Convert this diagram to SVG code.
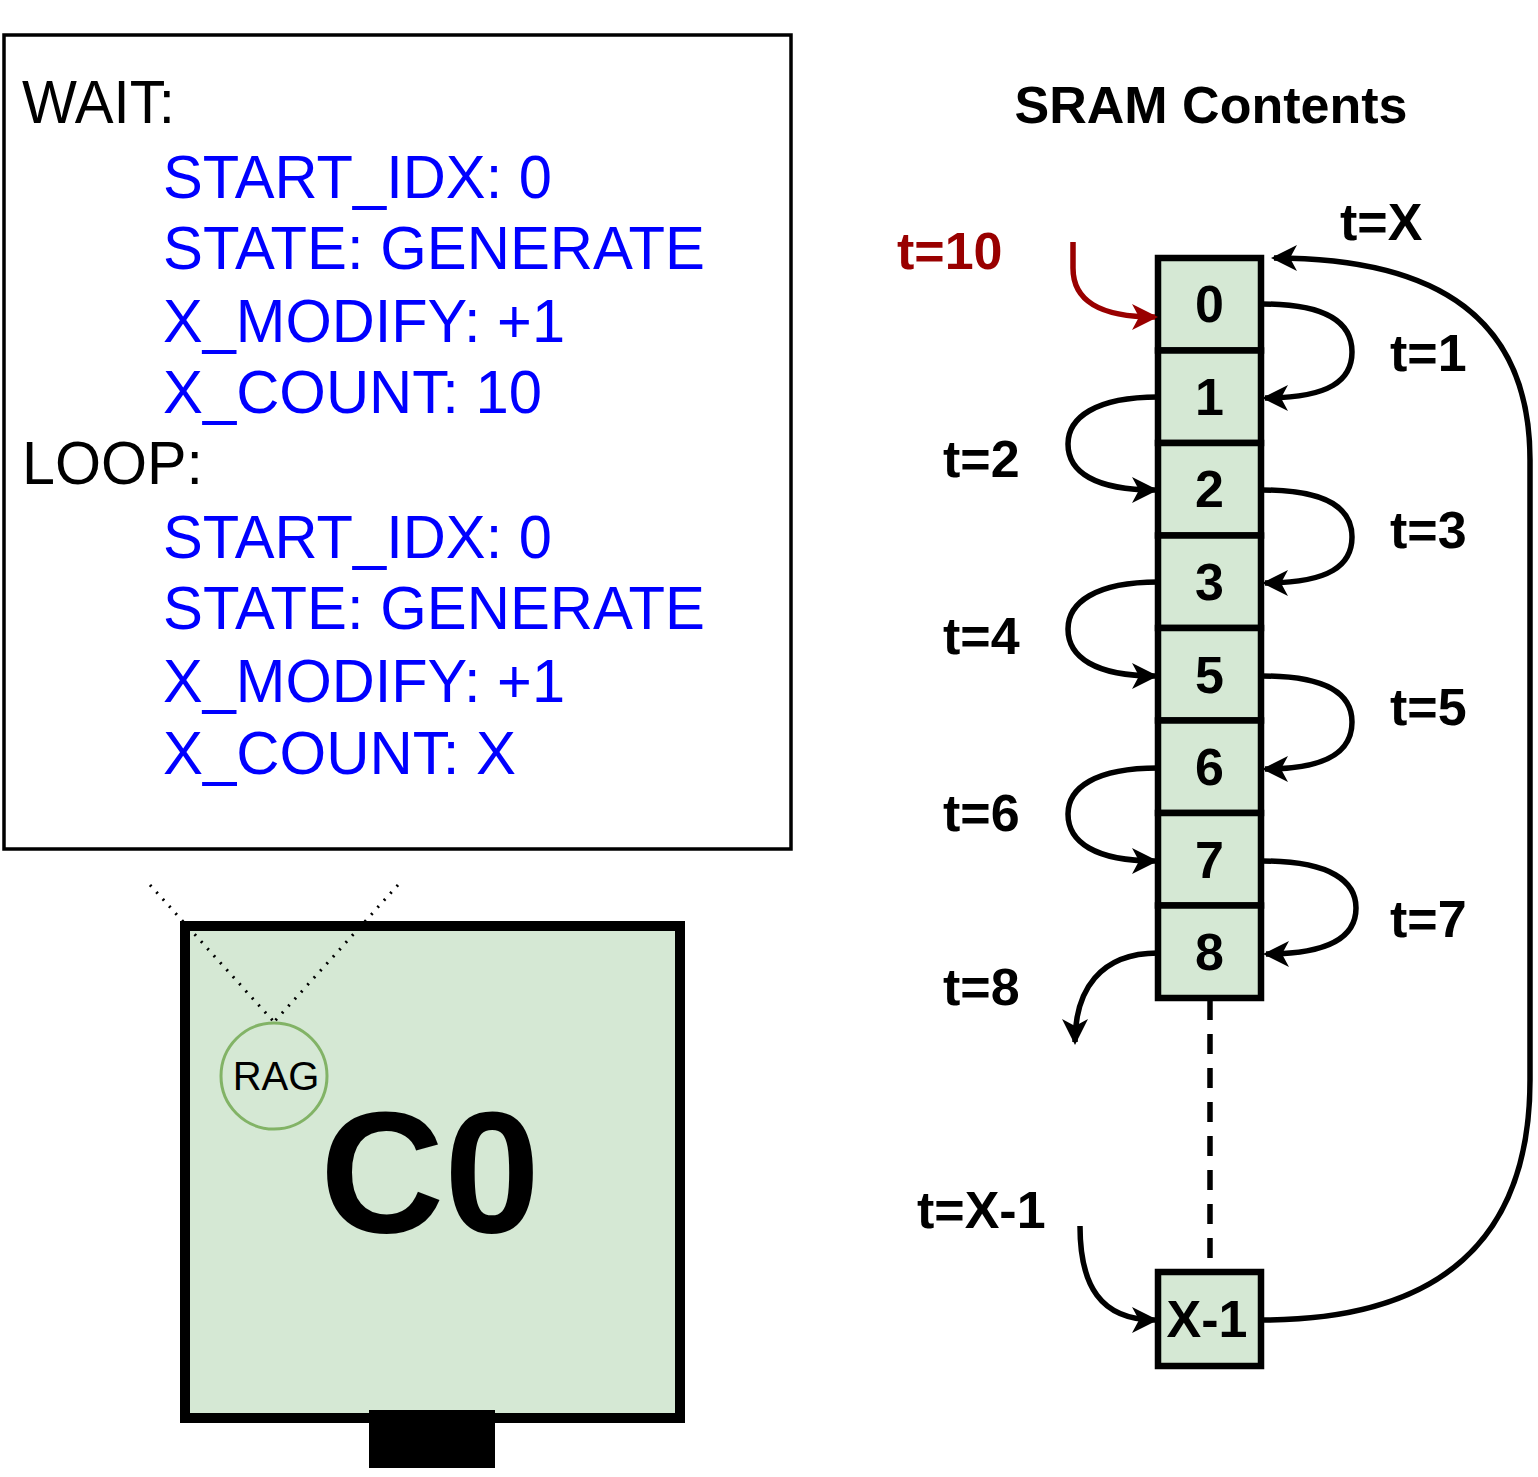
<svg xmlns="http://www.w3.org/2000/svg" width="1538" height="1477" viewBox="0 0 1538 1477">
<style>
.code{font-family:"Liberation Sans",Arial,sans-serif;font-size:62px}
.k{fill:#000}
.b{fill:#0000ff}
.cell rect{fill:#d5e8d4;stroke:#000;stroke-width:6.5}
.cell text{font-family:"Liberation Sans",Arial,sans-serif;font-weight:bold;font-size:52px;text-anchor:middle}
.lbl{font-family:"Liberation Sans",Arial,sans-serif;font-weight:bold;font-size:52px}
.con{fill:none;stroke:#000;stroke-width:5.5;marker-end:url(#ah)}
</style>
<defs>
<marker id="ah" viewBox="0 0 28 28" refX="23" refY="14" markerWidth="28" markerHeight="28" markerUnits="userSpaceOnUse" orient="auto">
<path d="M0,1 L26,14 L0,27 L7,14 Z" fill="#000"/>
</marker>
<marker id="ahr" viewBox="0 0 28 28" refX="23" refY="14" markerWidth="28" markerHeight="28" markerUnits="userSpaceOnUse" orient="auto">
<path d="M0,1 L26,14 L0,27 L7,14 Z" fill="#990000"/>
</marker>
</defs>
<rect x="0" y="0" width="1538" height="1477" fill="#fff"/>

<g id="code-box">
<rect x="4" y="35" width="787" height="814" fill="#fff" stroke="#000" stroke-width="3.5"/>
<text class="code k" x="22" y="123" textLength="153" lengthAdjust="spacingAndGlyphs">WAIT:</text>
<text class="code b" x="163" y="198" textLength="389" lengthAdjust="spacingAndGlyphs">START_IDX: 0</text>
<text class="code b" x="163" y="269" textLength="542" lengthAdjust="spacingAndGlyphs">STATE: GENERATE</text>
<text class="code b" x="163" y="342" textLength="402" lengthAdjust="spacingAndGlyphs">X_MODIFY: +1</text>
<text class="code b" x="163" y="413" textLength="379" lengthAdjust="spacingAndGlyphs">X_COUNT: 10</text>
<text class="code k" x="22" y="484" textLength="181" lengthAdjust="spacingAndGlyphs">LOOP:</text>
<text class="code b" x="163" y="558" textLength="389" lengthAdjust="spacingAndGlyphs">START_IDX: 0</text>
<text class="code b" x="163" y="629" textLength="542" lengthAdjust="spacingAndGlyphs">STATE: GENERATE</text>
<text class="code b" x="163" y="702" textLength="402" lengthAdjust="spacingAndGlyphs">X_MODIFY: +1</text>
<text class="code b" x="163" y="774" textLength="353" lengthAdjust="spacingAndGlyphs">X_COUNT: X</text>
</g>

<g id="c0">
<rect x="185" y="926" width="495" height="492" fill="#d5e8d4" stroke="#000" stroke-width="10"/>
<rect x="369" y="1410" width="126" height="58" fill="#000"/>
<text x="430" y="1232" font-family="Liberation Sans,Arial,sans-serif" font-weight="bold" font-size="172" text-anchor="middle">C0</text>
</g>

<g id="rag">
<circle cx="274" cy="1076" r="53" fill="#d5e8d4" stroke="#82b366" stroke-width="3"/>
<text x="276" y="1090" font-family="Liberation Sans,Arial,sans-serif" font-size="40" text-anchor="middle">RAG</text>
</g>

<g id="zoom-lines" fill="none" stroke="#000" stroke-width="3" stroke-dasharray="2 7.5">
<line x1="150" y1="885" x2="274" y2="1022"/>
<line x1="398" y1="885" x2="274" y2="1022"/>
</g>

<text id="title" class="lbl" x="1211" y="123" text-anchor="middle">SRAM Contents</text>

<g id="cell-0" class="cell"><rect x="1158" y="258" width="103" height="92.5"/><text x="1209.5" y="322">0</text></g>
<g id="cell-1" class="cell"><rect x="1158" y="350.5" width="103" height="92.5"/><text x="1209.5" y="415">1</text></g>
<g id="cell-2" class="cell"><rect x="1158" y="443" width="103" height="92.5"/><text x="1209.5" y="507">2</text></g>
<g id="cell-3" class="cell"><rect x="1158" y="535.5" width="103" height="92.5"/><text x="1209.5" y="600">3</text></g>
<g id="cell-5" class="cell"><rect x="1158" y="628" width="103" height="92.5"/><text x="1209.5" y="693">5</text></g>
<g id="cell-6" class="cell"><rect x="1158" y="720.5" width="103" height="92.5"/><text x="1209.5" y="785">6</text></g>
<g id="cell-7" class="cell"><rect x="1158" y="813" width="103" height="92.5"/><text x="1209.5" y="878">7</text></g>
<g id="cell-8" class="cell"><rect x="1158" y="905.5" width="103" height="92.5"/><text x="1209.5" y="970">8</text></g>
<g id="cell-x1" class="cell"><rect x="1158" y="1272" width="103" height="94"/><text x="1207" y="1337">X-1</text></g>

<g id="labels" class="lbl">
<text x="897" y="269" fill="#990000">t=10</text>
<text x="1340" y="240">t=X</text>
<text x="1390" y="371">t=1</text>
<text x="943" y="477">t=2</text>
<text x="1390" y="548">t=3</text>
<text x="943" y="654">t=4</text>
<text x="1390" y="725">t=5</text>
<text x="943" y="831">t=6</text>
<text x="1390" y="937">t=7</text>
<text x="943" y="1005">t=8</text>
<text x="917" y="1228">t=X-1</text>
</g>

<g id="connectors">
<path d="M1073,242 L1073,268 C1073,300 1098,317 1155,317" fill="none" stroke="#990000" stroke-width="5.5" marker-end="url(#ahr)"/>
<path class="con" d="M1262,304 C1330,304 1352,325 1352,352 C1352,380 1330,398 1265,398"/>
<path class="con" d="M1158,397 C1095,397 1068,418 1068,444 C1068,472 1095,490 1155,490"/>
<path class="con" d="M1262,490 C1330,490 1352,510 1352,537 C1352,565 1330,583 1265,583"/>
<path class="con" d="M1158,582 C1095,582 1068,603 1068,629 C1068,657 1095,676 1155,676"/>
<path class="con" d="M1262,676 C1330,676 1352,696 1352,722 C1352,750 1330,769 1265,769"/>
<path class="con" d="M1158,768 C1095,768 1068,788 1068,814 C1068,842 1095,861 1155,861"/>
<path class="con" d="M1262,861 C1332,861 1356,882 1356,908 C1356,936 1332,954 1266,954"/>
<path class="con" d="M1158,953 C1100,953 1075,990 1075,1042"/>
<path class="con" d="M1080,1226 C1080,1285 1100,1320 1155,1320"/>
<path class="con" d="M1262,1320 C1440,1320 1530,1240 1530,1080 L1530,460 C1530,320 1440,258 1274,258"/>
<line x1="1210" y1="1000" x2="1210" y2="1272" stroke="#000" stroke-width="5.5" stroke-dasharray="20 14"/>
</g>
</svg>
